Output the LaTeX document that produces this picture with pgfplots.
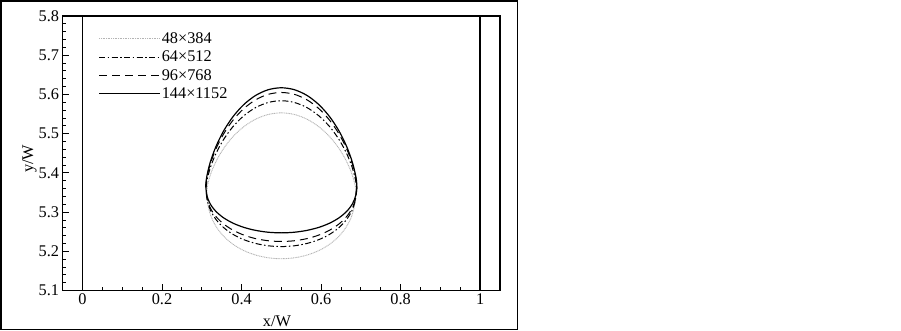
\documentclass[border=0pt]{standalone}
\usepackage{pgfplots}
\pgfplotsset{compat=1.18}
\usepackage{fontspec}
\setmainfont{Liberation Serif}
\begin{document}
\begin{tikzpicture}
\path (0pt,0pt) rectangle (901pt,331pt);
\draw[line width=1.3pt] (1pt,1.5pt) rectangle (517.5pt,330pt);
\begin{axis}[
  at={(62.6pt,40.5pt)}, anchor=south west,
  scale only axis, width=437.4pt, height=274.5pt,
  xmin=-0.05, xmax=1.05, ymin=5.1, ymax=5.8,
  xtick={0,0.2,0.4,0.6,0.8,1},
  xticklabels={0,0.2,0.4,0.6,0.8,1},
  ytick={5.1,5.2,5.3,5.4,5.5,5.6,5.7,5.8},
  yticklabels={5.1,5.2,5.3,5.4,5.5,5.6,5.7,5.8},
  minor x tick num=3, minor y tick num=4,
  tick align=inside, tick pos=left,
  major tick length=6pt, minor tick length=3.5pt,
  every tick/.style={black, line width=0.8pt},
  axis line style={line width=1.3pt},
  /pgf/number format/assume math mode=true,
  tick label style={font=\fontsize{16.3}{19}\selectfont},
  xlabel={x/W}, ylabel={y/W},
  every axis x label/.style={at={(rel axis cs:0.49,0)}, anchor=center, yshift=-30.5pt, font=\fontsize{16.3}{19}\selectfont},
  every axis y label/.style={at={(rel axis cs:0,0.48)}, anchor=center, xshift=-33pt, rotate=90, font=\fontsize{16.3}{19}\selectfont},
  legend style={draw=none, fill=none, at={(rel axis cs:0.075,0.951)}, anchor=north west,
    font=\fontsize{16.3}{19}\selectfont, row sep=4pt,
    nodes={inner sep=1pt}},
  legend cell align=left,
  legend image code/.code={\draw[#1] (0pt,0pt) -- (53pt,0pt); \path (0pt,0pt) -- (61pt,0pt);},
]
\addplot[black, line width=1.3pt, forget plot] coordinates {(0,5.1) (0,5.8)};
\addplot[black, line width=1.3pt, forget plot] coordinates {(1,5.1) (1,5.8)};
% 48x384
\addplot[smooth, color={rgb,255:red,180;green,180;blue,180}, line width=0.9pt, dash pattern=on 1pt off 0.7pt] coordinates {
(0.313,5.355) (0.3158,5.3742) (0.3243,5.4024) (0.3381,5.4336) (0.3568,5.4649) (0.3798,5.4938) (0.4065,5.5184) (0.436,5.5372) (0.4675,5.5490) (0.5,5.553)
(0.5325,5.5490) (0.564,5.5372) (0.5935,5.5184) (0.6202,5.4938) (0.6432,5.4649) (0.6619,5.4336) (0.6757,5.4024) (0.6842,5.3742) (0.687,5.355)
(0.6842,5.3170) (0.6757,5.2865) (0.6619,5.2598) (0.6432,5.2365) (0.6202,5.2170) (0.5935,5.2014) (0.564,5.1902) (0.5325,5.1833) (0.5,5.181)
(0.4675,5.1833) (0.436,5.1902) (0.4065,5.2014) (0.3798,5.2170) (0.3568,5.2365) (0.3381,5.2598) (0.3243,5.2865) (0.3158,5.3170) (0.313,5.355)
};
\addlegendentry{48×384}
% 64x512
\addplot[smooth, black, line width=1pt, dash pattern=on 6pt off 2.5pt on 1.5pt off 2.5pt] coordinates {
(0.311,5.363) (0.3139,5.3844) (0.3224,5.4159) (0.3363,5.4507) (0.3552,5.4856) (0.3785,5.5179) (0.4055,5.5454) (0.4354,5.5664) (0.4672,5.5795) (0.5,5.584)
(0.5328,5.5795) (0.5646,5.5664) (0.5945,5.5454) (0.6215,5.5179) (0.6448,5.4856) (0.6637,5.4507) (0.6776,5.4159) (0.6861,5.3844) (0.689,5.363)
(0.6861,5.3301) (0.6776,5.3036) (0.6637,5.2804) (0.6448,5.2602) (0.6215,5.2432) (0.5945,5.2297) (0.5646,5.2200) (0.5328,5.2140) (0.5,5.212)
(0.4672,5.2140) (0.4354,5.2200) (0.4055,5.2297) (0.3785,5.2432) (0.3552,5.2602) (0.3363,5.2804) (0.3224,5.3036) (0.3139,5.3301) (0.311,5.363)
};
\addlegendentry{64×512}
% 96x768
\addplot[smooth, black, line width=1pt, dash pattern=on 8pt off 5pt] coordinates {
(0.31,5.366) (0.3129,5.3892) (0.3215,5.4232) (0.3355,5.4609) (0.3545,5.4986) (0.3779,5.5335) (0.405,5.5633) (0.435,5.5860) (0.467,5.6002) (0.5,5.605)
(0.533,5.6002) (0.565,5.5860) (0.595,5.5633) (0.6221,5.5335) (0.6455,5.4986) (0.6645,5.4609) (0.6785,5.4232) (0.6871,5.3892) (0.69,5.366)
(0.6871,5.3352) (0.6785,5.3105) (0.6645,5.2888) (0.6455,5.2700) (0.6221,5.2542) (0.595,5.2416) (0.565,5.2324) (0.533,5.2269) (0.5,5.225)
(0.467,5.2269) (0.435,5.2324) (0.405,5.2416) (0.3779,5.2542) (0.3545,5.2700) (0.3355,5.2888) (0.3215,5.3105) (0.3129,5.3352) (0.31,5.366)
};
\addlegendentry{96×768}
% 144x1152
\addplot[smooth, black, line width=1.2pt] coordinates {
(0.31,5.368) (0.3129,5.3921) (0.3215,5.4276) (0.3355,5.4668) (0.3545,5.5061) (0.3779,5.5425) (0.405,5.5735) (0.435,5.5972) (0.467,5.6120) (0.5,5.617)
(0.533,5.6120) (0.565,5.5972) (0.595,5.5735) (0.6221,5.5425) (0.6455,5.5061) (0.6645,5.4668) (0.6785,5.4276) (0.6871,5.3921) (0.69,5.368)
(0.6871,5.3416) (0.6785,5.3204) (0.6645,5.3018) (0.6455,5.2856) (0.6221,5.2720) (0.595,5.2612) (0.565,5.2534) (0.533,5.2486) (0.5,5.247)
(0.467,5.2486) (0.435,5.2534) (0.405,5.2612) (0.3779,5.2720) (0.3545,5.2856) (0.3355,5.3018) (0.3215,5.3204) (0.3129,5.3416) (0.31,5.368)
};
\addlegendentry{144×1152}
\end{axis}
\end{tikzpicture}
\end{document}
